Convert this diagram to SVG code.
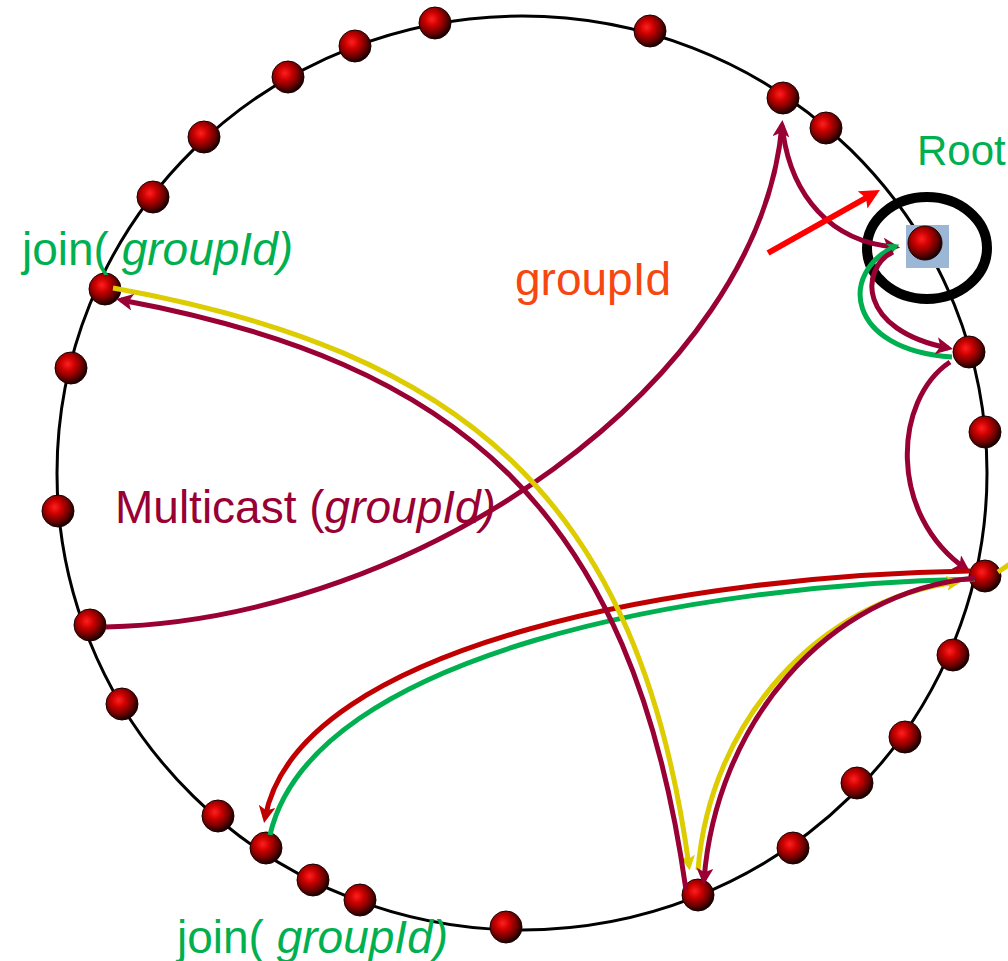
<svg xmlns="http://www.w3.org/2000/svg" width="1008" height="961" viewBox="0 0 1008 961">
<style>
  .ring{fill:none;stroke:#000;stroke-width:3}
  .ball{fill:url(#ballGrad);stroke:#1a0000;stroke-width:1}
  .c{fill:none;stroke-width:5;stroke-linecap:butt}
  .crim{stroke:#990033}
  .yel{stroke:#DDCC00}
  .grn{stroke:#00B050}
  .red{stroke:#C00000}
  .lbl{font-family:"Liberation Sans",Arial,sans-serif;font-size:46px}
  .it{font-style:italic}
</style>
<defs>
  <radialGradient id="ballGrad" cx="40%" cy="38%" r="62%">
    <stop offset="0" stop-color="#ff2020"/>
    <stop offset="0.35" stop-color="#cc0000"/>
    <stop offset="0.75" stop-color="#660000"/>
    <stop offset="1" stop-color="#1a0000"/>
  </radialGradient>
  <marker id="aCrim" viewBox="0 0 10 10" refX="7" refY="5" markerWidth="17" markerHeight="17" markerUnits="userSpaceOnUse" orient="auto"><path d="M0,0 L10,5 L0,10 L2.5,5 z" fill="#990033"/></marker>
  <marker id="aYel" viewBox="0 0 10 10" refX="7" refY="5" markerWidth="15" markerHeight="15" markerUnits="userSpaceOnUse" orient="auto"><path d="M0,0 L10,5 L0,10 L2.5,5 z" fill="#DDCC00"/></marker>
  <marker id="aRed" viewBox="0 0 10 10" refX="7" refY="5" markerWidth="17" markerHeight="17" markerUnits="userSpaceOnUse" orient="auto"><path d="M0,0 L10,5 L0,10 L2.5,5 z" fill="#C00000"/></marker>
  <marker id="aGrn" viewBox="0 0 10 10" refX="7" refY="5" markerWidth="12" markerHeight="12" markerUnits="userSpaceOnUse" orient="auto"><path d="M0,0 L10,5 L0,10 L2.5,5 z" fill="#00B050"/></marker>
  <marker id="aBright" viewBox="0 0 10 10" refX="6" refY="5" markerWidth="20" markerHeight="20" markerUnits="userSpaceOnUse" orient="auto"><path d="M0,0 L10,5 L0,10 L2,5 z" fill="#FF0000"/></marker>
</defs>
<rect width="1008" height="961" fill="#fff"/>
<ellipse class="ring" cx="522" cy="473" rx="465" ry="457"/>
<g id="root-ring"><ellipse cx="927" cy="248" rx="60" ry="51" fill="none" stroke="#000" stroke-width="10"/></g>
<g id="nodes">
  <g id="n1"><circle class="ball" cx="435" cy="23" r="16"/></g>
  <g id="n2"><circle class="ball" cx="355" cy="46" r="16"/></g>
  <g id="n3"><circle class="ball" cx="288" cy="77" r="16"/></g>
  <g id="n4"><circle class="ball" cx="204" cy="137" r="16"/></g>
  <g id="n5"><circle class="ball" cx="153" cy="197" r="16"/></g>
  <g id="n6"><circle class="ball" cx="105" cy="289" r="16"/></g>
  <g id="n7"><circle class="ball" cx="71" cy="368" r="16"/></g>
  <g id="n8"><circle class="ball" cx="58" cy="511" r="16"/></g>
  <g id="n9"><circle class="ball" cx="90" cy="625" r="16"/></g>
  <g id="n10"><circle class="ball" cx="122" cy="704" r="16"/></g>
  <g id="n11"><circle class="ball" cx="218" cy="816" r="16"/></g>
  <g id="n12"><circle class="ball" cx="266" cy="848" r="16"/></g>
  <g id="n13"><circle class="ball" cx="313" cy="880" r="16"/></g>
  <g id="n14"><circle class="ball" cx="360" cy="900" r="16"/></g>
  <g id="n15"><circle class="ball" cx="506" cy="927" r="16"/></g>
  <g id="n16"><circle class="ball" cx="698" cy="895" r="16"/></g>
  <g id="n17"><circle class="ball" cx="793" cy="848" r="16"/></g>
  <g id="n18"><circle class="ball" cx="857" cy="783" r="16"/></g>
  <g id="n19"><circle class="ball" cx="905" cy="737" r="16"/></g>
  <g id="n20"><circle class="ball" cx="953" cy="655" r="16"/></g>
  <g id="n21"><circle class="ball" cx="985" cy="576" r="16"/></g>
  <g id="n22"><circle class="ball" cx="985" cy="432" r="16"/></g>
  <g id="n23"><circle class="ball" cx="969" cy="352" r="16"/></g>
  <g id="n24-root"><rect x="906" y="225" width="43" height="43" fill="#9BB7D5"/><circle class="ball" cx="925" cy="243" r="17"/></g>
  <g id="n25"><circle class="ball" cx="826" cy="128" r="16"/></g>
  <g id="n26"><circle class="ball" cx="783" cy="98" r="16"/></g>
  <g id="n27"><circle class="ball" cx="650" cy="31" r="16"/></g>
</g>
<g id="connectors">
  <path class="c crim" d="M106 627 C420 620 760 380 782 125" marker-end="url(#aCrim)"/>
  <path class="c crim" d="M783 133 C792 195 830 242 895 247" marker-end="url(#aCrim)"/>
  <path d="M768 253 L873 194" fill="none" stroke="#FF0000" stroke-width="6" marker-end="url(#aBright)"/>
  <path class="c grn" d="M952 357 C846 350 838 272 896 246" marker-end="url(#aGrn)"/>
  <path class="c crim" d="M893 252 C860 268 857 330 948 348" marker-end="url(#aCrim)"/>
  <path class="c crim" d="M950 362 C893 400 888 515 966 569" marker-end="url(#aCrim)"/>
  <path class="c grn" d="M270 835 C312 652 700 584 975 579"/>
  <path class="c red" d="M970 571 C700 575 298 640 265 818" marker-end="url(#aRed)"/>
  <path class="c yel" d="M113 288 C463 351 639 498 689 866" marker-end="url(#aYel)"/>
  <path class="c crim" d="M686 890 C632 505 455 362 121 300" marker-end="url(#aCrim)"/>
  <path class="c yel" d="M698 870 C710 720 820 600 957 582" marker-end="url(#aYel)"/>
  <path class="c crim" d="M975 578 C825 592 716 725 704 880" marker-end="url(#aCrim)"/>
  <path class="c yel" d="M998 572 L1010 564"/>
</g>
<g id="labels">
  <text class="lbl" x="917" y="165" fill="#00B050" style="font-size:42px">Root</text>
  <text class="lbl" x="22" y="265" fill="#00B050">join(<tspan class="it"> groupId)</tspan></text>
  <text class="lbl" x="515" y="295" fill="#F5470F">groupId</text>
  <text class="lbl" x="115" y="523" fill="#990033">Multicast (<tspan class="it">groupId)</tspan></text>
  <text class="lbl" x="177" y="953" fill="#00B050">join(<tspan class="it"> groupId)</tspan></text>
</g>
</svg>
